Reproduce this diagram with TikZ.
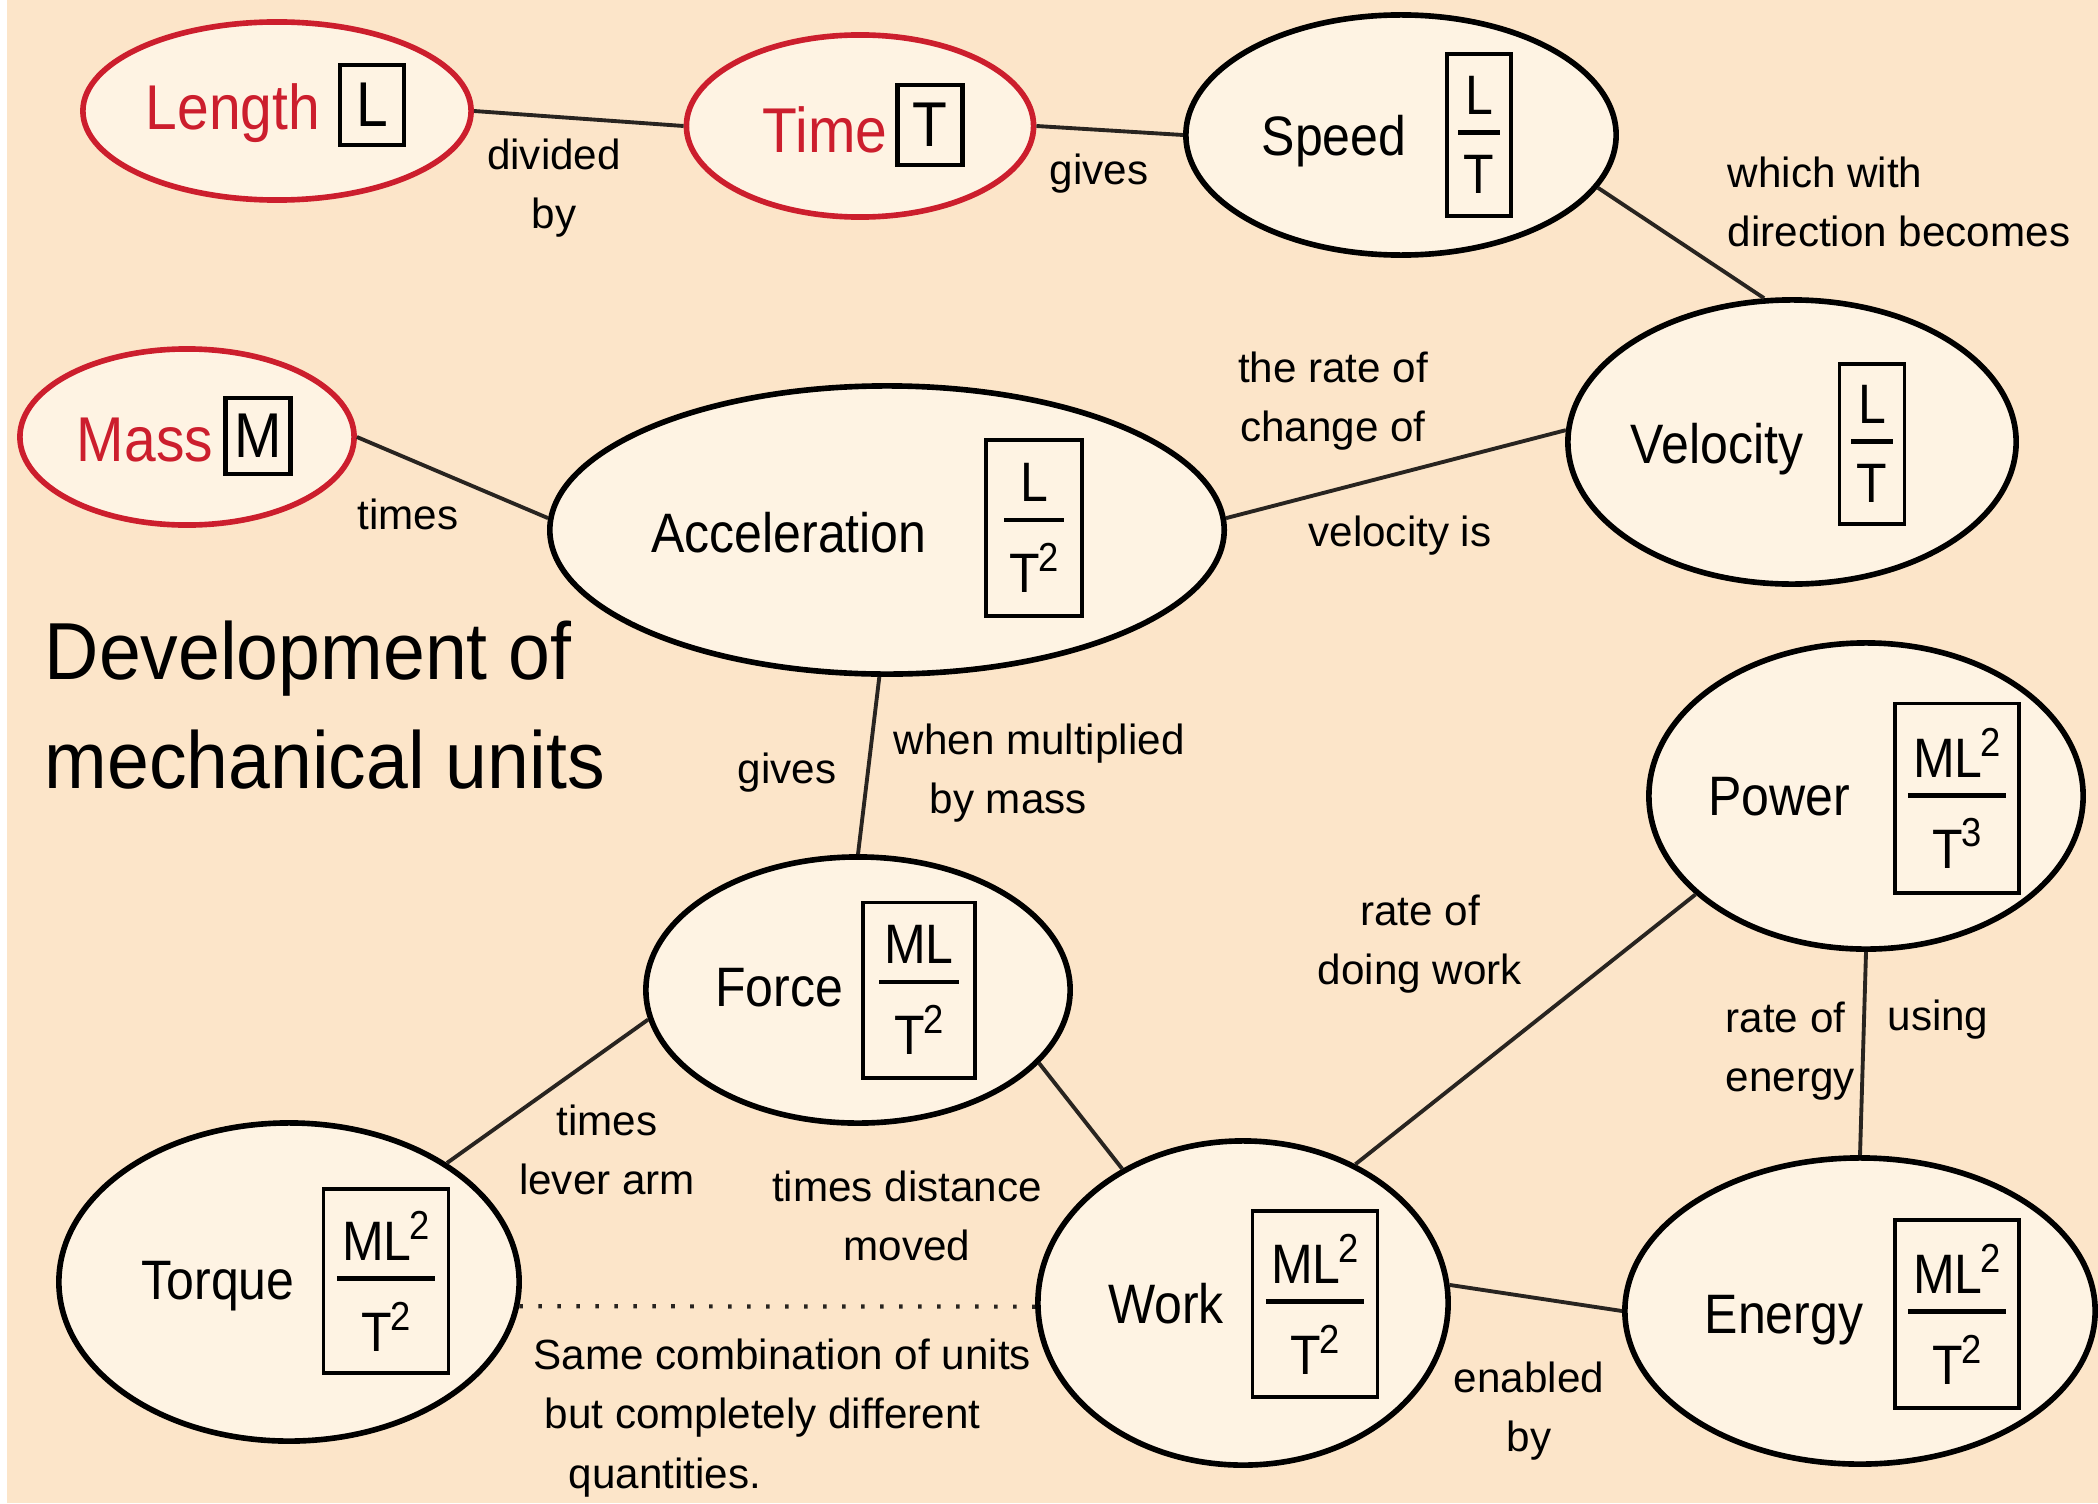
\documentclass[tikz,border=0pt]{standalone}
\usepackage{fontspec}
\setmainfont{Liberation Sans}
\newfontfamily\condfont{Liberation Sans}[FakeStretch=0.9]
\newfontfamily\titlefont{Liberation Sans}[FakeStretch=0.93]
\usetikzlibrary{shapes.geometric}
\definecolor{bgc}{RGB}{252,229,201}
\definecolor{fillc}{RGB}{254,243,227}
\definecolor{redc}{RGB}{204,30,45}
\definecolor{linec}{RGB}{40,36,32}
\newcommand{\sq}[1]{\kern-0.6pt\raisebox{6pt}{\fontsize{11.5}{11.5}\selectfont #1}}
\newcommand{\ufrac}[2]{%
  \setbox0\hbox{#1}\setbox2\hbox{#2}%
  \dimen0=\wd0 \ifdim\wd2>\dimen0 \dimen0=\wd2\fi
  \advance\dimen0 by 3pt
  \vbox{\hbox to\dimen0{\hfil\box0\hfil}\kern4.5pt\hrule height 1.3pt\kern6pt\hbox to\dimen0{\hfil\box2\hfil}}}
\tikzset{
  ellbox/.style={ellipse, draw=black, line width=1.6pt, fill=fillc, inner sep=0pt},
  redell/.style={ellbox, draw=redc, line width=1.6pt},
  qname/.style={inner sep=0pt, font=\condfont\fontsize{15.8}{19}\selectfont},
  rname/.style={inner sep=0pt, text=redc, font=\condfont\fontsize{18}{21}\selectfont},
  ubox/.style={draw, line width=1.1pt, inner sep=0pt, font=\condfont\fontsize{15.8}{19}\selectfont},
  sbox/.style={draw, line width=1.2pt, inner sep=0pt, font=\condfont\fontsize{18}{21}\selectfont},
  lbl/.style={inner sep=0pt, font=\fontsize{12}{16.8}\selectfont, align=center},
  conn/.style={draw=linec, line width=1.1pt},
}
\begin{document}
\begin{tikzpicture}[x=0.01cm,y=-0.01cm]
\fill[bgc] (0,0) rectangle (2098,1503);
\fill[white] (0,0) rectangle (7,1503);
\useasboundingbox (0,0) rectangle (2098,1503);

% ellipses
\node[redell, minimum width=3.88cm, minimum height=1.78cm] (len) at (277,111) {};
\node[redell, minimum width=3.47cm, minimum height=1.82cm] (time) at (860,126) {};
\node[redell, minimum width=3.34cm, minimum height=1.76cm] (mass) at (187,437) {};
\node[ellbox, minimum width=4.30cm, minimum height=2.40cm] (speed) at (1401,135) {};
\node[ellbox, minimum width=4.48cm, minimum height=2.84cm] (vel) at (1792,442) {};
\node[ellbox, minimum width=6.74cm, minimum height=2.88cm] (acc) at (887,530) {};
\node[ellbox, minimum width=4.34cm, minimum height=3.06cm] (power) at (1866,796) {};
\node[ellbox, minimum width=4.24cm, minimum height=2.66cm] (force) at (858,990) {};
\node[ellbox, minimum width=4.60cm, minimum height=3.18cm] (torque) at (289,1282) {};
\node[ellbox, minimum width=4.10cm, minimum height=3.24cm] (work) at (1243,1303) {};
\node[ellbox, minimum width=4.70cm, minimum height=3.06cm] (energy) at (1860,1311) {};

% names
\node[rname] (lenT) at (233,113) {Length};
\node[sbox, minimum width=0.64cm, minimum height=0.80cm] (lenU) at (372,105) {L};
\node[rname] (timeT) at (825,130) {Time};
\node[sbox, minimum width=0.65cm, minimum height=0.80cm] (timeU) at (930,125) {T};
\node[rname] (massT) at (145,440) {Mass};
\node[sbox, minimum width=0.65cm, minimum height=0.76cm] (massU) at (258,436) {M};

\node[qname] (speedT) at (1334,141) {Speed};
\node[ubox, minimum width=0.64cm, minimum height=1.62cm] (speedU) at (1479,135) {\ufrac{L}{T}};
\node[qname] (velT) at (1717,449) {Velocity};
\node[ubox, minimum width=0.65cm, minimum height=1.60cm] (velU) at (1872,444) {\ufrac{L}{T}};
\node[qname] (accT) at (789,533) {Acceleration};
\node[ubox, minimum width=0.96cm, minimum height=1.76cm] (accU) at (1034,528) {\ufrac{L}{T\sq{2}}};
\node[qname] (powerT) at (1779,797) {Power};
\node[ubox, minimum width=1.24cm, minimum height=1.89cm] (powerU) at (1957,798) {\ufrac{ML\sq{2}}{T\sq{3}}};
\node[qname] (forceT) at (779,988) {Force};
\node[ubox, minimum width=1.12cm, minimum height=1.75cm] (forceU) at (919,990) {\ufrac{ML}{T\sq{2}}};
\node[qname] (torqueT) at (218,1286) {Torque};
\node[ubox, minimum width=1.25cm, minimum height=1.84cm] (torqueU) at (386,1281) {\ufrac{ML\sq{2}}{T\sq{2}}};
\node[qname] (workT) at (1166,1304) {Work};
\node[ubox, minimum width=1.25cm, minimum height=1.86cm] (workU) at (1315,1304) {\ufrac{ML\sq{2}}{T\sq{2}}};
\node[qname] (energyT) at (1784,1320) {Energy};
\node[ubox, minimum width=1.24cm, minimum height=1.88cm] (energyU) at (1957,1314) {\ufrac{ML\sq{2}}{T\sq{2}}};

% title
\node[inner sep=0pt, anchor=west, align=left, font=\titlefont\fontsize{23}{31}\selectfont] (title) at (44,705) {Development of\\mechanical units};

% labels
\node[lbl] (l1) at (554,188) {divided\\by};
\node[lbl] (l2) at (1099,174) {gives};
\node[lbl, anchor=west, align=left] (l3) at (1727,202) {which with\\direction becomes};
\node[lbl] (l4) at (1333,401) {the rate of\\change of};
\node[lbl] (l5) at (1400,536) {velocity is};
\node[lbl] (l6) at (408,514) {times};
\node[lbl] (l7) at (787,773) {gives};
\node[lbl, anchor=west, align=left] (l8) at (893,773) {when multiplied\\\hspace*{0.36cm}by mass};
\node[lbl] (l9) at (1420,944) {rate of\\doing work};
\node[lbl, anchor=west, align=left] (l10) at (1725,1051) {rate of\\energy};
\node[lbl] (l11) at (1938,1020) {using};
\node[lbl] (l12) at (607,1150) {times\\lever arm};
\node[lbl] (l13) at (907,1216) {times distance\\moved};
\node[lbl, anchor=west, align=left] (l14) at (533,1418) {Same combination of units\\\hspace*{0.11cm}but completely different\\\hspace*{0.35cm}quantities.};
\node[lbl] (l15) at (1529,1411) {enabled\\by};

% connectors
\draw[conn] (len.east) -- (time.west);
\draw[conn] (time.east) -- (speed.west);
\draw[conn] (speed.-15) -- (vel.101);
\draw[conn] (acc.2.5) -- (vel.177);
\draw[conn] (mass.east) -- (acc.178);
\draw[conn] (acc.-93) -- (force.90);
\draw[conn] (force.188) -- (torque.37);
\draw[conn] (force.-22) -- (work.132);
\draw[conn] (work.51) -- (power.210);
\draw[conn] (power.south) -- (energy.north);
\draw[conn] (work.5) -- (energy.180);
\draw[conn, line width=1.2pt, dash pattern=on 1pt off 4.4pt] (torque.-6.5) -- (work.181);
\end{tikzpicture}
\end{document}
